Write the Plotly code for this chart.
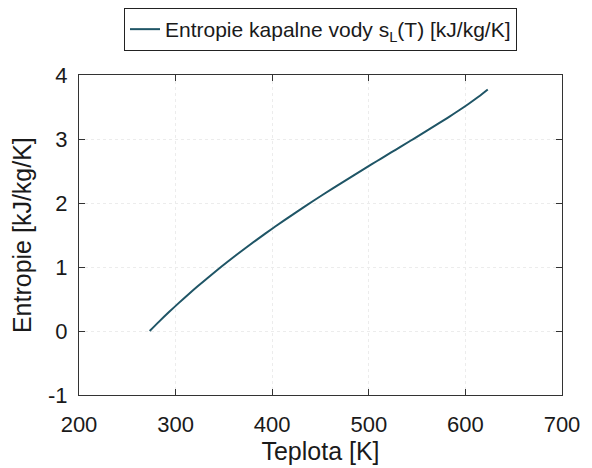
import plotly.graph_objects as go

# Saturated liquid water entropy
temperature_K = [273.16, 283.15, 293.15, 303.15, 313.15, 323.15, 333.15, 343.15, 353.15, 363.15,
                 373.15, 383.15, 393.15, 403.15, 413.15, 423.15, 433.15, 443.15, 453.15, 463.15,
                 473.15, 483.15, 493.15, 503.15, 513.15, 523.15, 533.15, 543.15, 553.15, 563.15,
                 573.15, 583.15, 593.15, 603.15, 613.15, 623.15]
entropy_kJ = [0.0000, 0.1510, 0.2966, 0.4369, 0.5725, 0.7038, 0.8313, 0.9551, 1.0756, 1.1929,
              1.3072, 1.4188, 1.5279, 1.6346, 1.7392, 1.8418, 1.9426, 2.0417, 2.1392, 2.2355,
              2.3305, 2.4245, 2.5177, 2.6101, 2.7020, 2.7935, 2.8849, 2.9765, 3.0685, 3.1612,
              3.2552, 3.3510, 3.4494, 3.5518, 3.6601, 3.7784]

x_ticks = [200, 300, 400, 500, 600, 700]
x_tick_text = ["200", "300", "400", "500", "600", "700"]
y_ticks = [-1, 0, 1, 2, 3, 4]
y_tick_text = ["-1", "0", "1", "2", "3", "4"]

font_family = "Liberation Sans, Arial, sans-serif"
text_color = "#1a1a1a"

fig = go.Figure()
fig.add_trace(go.Scatter(
    x=temperature_K, y=entropy_kJ, mode="lines", line_shape="spline",
    line=dict(color="#1f5566", width=2),
    name="Entropie kapalne vody s<sub>L</sub>(T) [kJ/kg/K]",
))

axis_common = dict(
    showline=True, linecolor="#333333", linewidth=1.2, mirror="ticks",
    ticks="inside", ticklen=6, tickcolor="#333333",
    showgrid=True, gridcolor="#ececec", griddash="dot", gridwidth=1,
    zeroline=False,
    tickfont=dict(size=22, color=text_color, family=font_family),
)

fig.update_layout(
    width=592, height=468,
    margin=dict(l=79, r=23, t=74, b=72),
    paper_bgcolor="white", plot_bgcolor="white",
    font=dict(family=font_family, color=text_color),
    showlegend=True,
    legend=dict(
        x=0.5, xanchor="center", y=1 - 8 / 468, yanchor="top", yref="container",
        bgcolor="white", bordercolor="#222222", borderwidth=1,
        font=dict(size=21, color=text_color, family=font_family),
        tracegroupgap=0, itemwidth=30,
    ),
    xaxis=dict(range=[200, 700], tickvals=x_ticks, ticktext=x_tick_text, ticklabelstandoff=9,
               title=dict(text="Teplota [K]", font=dict(size=25, color=text_color), standoff=2),
               **axis_common),
    yaxis=dict(range=[-1, 4], tickvals=y_ticks, ticktext=y_tick_text, ticklabelstandoff=6,
               title=dict(text="Entropie [kJ/kg/K]", font=dict(size=25, color=text_color), standoff=9),
               **axis_common),
)

fig.write_html("out.html")
